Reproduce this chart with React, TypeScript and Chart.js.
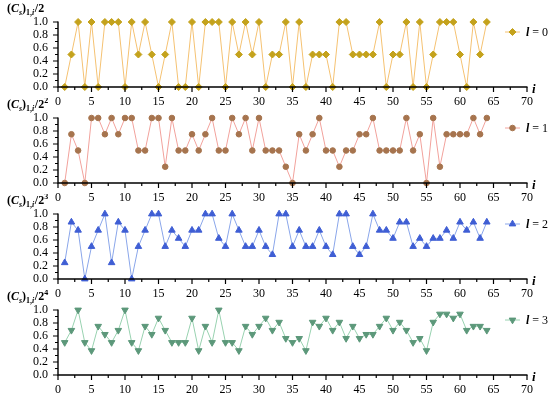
import React, { useEffect, useRef } from 'react';
import { Chart, registerables } from 'chart.js';
import { drawPoint } from 'chart.js/helpers';
Chart.register(...registerables);

const iValues = [1,2,3,4,5,6,7,8,9,10,11,12,13,14,15,16,17,18,19,20,21,22,23,24,25,26,27,28,29,30,31,32,33,34,35,36,37,38,39,40,41,42,43,44,45,46,47,48,49,50,51,52,53,54,55,56,57,58,59,60,61,62,63,64];

const l0 = [0,0.5,1,0,1,0,1,1,1,0,1,0.5,1,0.5,0,0.5,1,0,0,1,0,1,1,1,0,1,0.5,1,0.5,1,0,0.5,0.5,1,0,1,0,0.5,0.5,0.5,0,1,1,0.5,0.5,0.5,0.5,1,0,0.5,0.5,1,0,1,0,0.5,1,1,1,0.5,0,1,0.5,1];
const l1 = [0,0.75,0.5,0,1,1,0.75,1,0.75,1,1,0.5,0.5,1,1,0.25,1,0.5,0.5,0.75,0.5,0.75,1,0.5,0.5,1,0.75,1,0.5,1,0.5,0.5,0.5,0.25,0,0.75,0.5,0.75,1,0.5,0.5,0.25,0.5,0.5,0.75,0.75,1,0.5,0.5,0.5,0.5,1,0.5,0.75,0,1,0.25,0.75,0.75,0.75,0.75,1,0.75,1];
const l2 = [0.25,0.875,0.75,0,0.5,0.75,1,0.25,0.875,0.75,0,0.5,0.75,1,1,0.5,0.75,0.625,0.5,0.75,0.75,1,1,0.625,0.5,1,0.75,0.5,0.5,0.75,0.5,0.375,1,1,0.5,0.75,0.5,0.5,0.75,0.5,0.375,1,1,0.5,0.375,0.5,1,0.75,0.75,0.625,0.875,0.875,0.5,0.625,0.5,0.625,0.625,0.75,0.625,0.875,0.75,0.875,0.625,0.875];
const l3 = [0.5,0.6875,1,0.5,0.375,0.75,0.625,0.5,0.6875,1,0.5,0.375,0.75,0.625,0.875,0.6875,0.5,0.5,0.5,0.875,0.375,0.75,0.5,1,0.5,0.5,0.375,0.75,0.625,0.75,0.875,0.6875,0.8125,0.5625,0.5,0.5625,0.375,0.8125,0.75,0.875,0.6875,0.8125,0.5625,0.75,0.5625,0.625,0.625,0.75,0.875,0.6875,0.8125,0.6875,0.5,0.5625,0.375,0.8125,0.9375,0.9375,0.875,0.9375,0.6875,0.75,0.75,0.6875];

const xTicks = [0,5,10,15,20,25,30,35,40,45,50,55,60,65,70];
const xMinorTicks = [2.5,7.5,12.5,17.5,22.5,27.5,32.5,37.5,42.5,47.5,52.5,57.5,62.5,67.5];
const yTicks = [0,0.2,0.4,0.6,0.8,1.0];
const yMinorTicks = [0.1,0.3,0.5,0.7,0.9];

const legendLabels = ['0','1','2','3'];
const titleExponents = ['', '2', '3', '4'];

const panels = [
  { values: l0, line: '#f5c272', marker: '#c4a21c', style: 'rectRot', radius: 3.5, rotation: 0 },
  { values: l1, line: '#f2a29c', marker: '#a6744e', style: 'circle', radius: 2.8, rotation: 0 },
  { values: l2, line: '#8aa6ea', marker: '#3f5ed4', style: 'triangle', radius: 3.8, rotation: 0 },
  { values: l3, line: '#98d2b0', marker: '#5c987a', style: 'triangle', radius: 3.8, rotation: 180 },
];

const SERIF = '"Liberation Serif", "DejaVu Serif", serif';
const CANVAS_W = 550;
const CANVAS_H = 110;
const PANEL_TOPS = [2, 98, 194, 290];

function makeDecor(idx: number) {
  const p = panels[idx];
  return {
    id: 'decor' + idx,
    afterDraw(chart: any) {
      const ctx = chart.ctx as CanvasRenderingContext2D;
      const xs = chart.scales.x;
      const ys = chart.scales.y;
      const x0 = xs.getPixelForValue(xTicks[0]);
      const x1 = xs.getPixelForValue(xTicks[xTicks.length - 1]);
      const y0 = ys.getPixelForValue(yTicks[0]);
      const y1 = ys.getPixelForValue(yTicks[yTicks.length - 1]);
      ctx.save();
      ctx.strokeStyle = '#000';
      ctx.lineWidth = 1.4;
      ctx.beginPath();
      ctx.moveTo(x0, y1 - 0.5);
      ctx.lineTo(x0, y0);
      ctx.lineTo(x1 + 0.5, y0);
      ctx.stroke();
      ctx.lineWidth = 1.2;
      ctx.beginPath();
      xTicks.forEach(v => { const px = xs.getPixelForValue(v); ctx.moveTo(px, y0); ctx.lineTo(px, y0 + 5); });
      xMinorTicks.forEach(v => { const px = xs.getPixelForValue(v); ctx.moveTo(px, y0); ctx.lineTo(px, y0 + 3); });
      yTicks.forEach(v => { const py = ys.getPixelForValue(v); ctx.moveTo(x0, py); ctx.lineTo(x0 - 5, py); });
      yMinorTicks.forEach(v => { const py = ys.getPixelForValue(v); ctx.moveTo(x0, py); ctx.lineTo(x0 - 3, py); });
      ctx.stroke();

      // axis variable label "i"
      ctx.fillStyle = '#000';
      ctx.textBaseline = 'alphabetic';
      ctx.textAlign = 'left';
      ctx.font = 'italic bold 13px ' + SERIF;
      ctx.fillText('i', x1 + 5, y0 + 6);

      // y title (C_s)_{1,i}/2^k
      let tx = 7;
      const base = y1 - 10;
      const piece = (t: string, font: string, dy: number) => {
        ctx.font = font;
        ctx.fillText(t, tx, base + dy);
        tx += ctx.measureText(t).width;
      };
      piece('(', 'bold 12px ' + SERIF, 0);
      piece('C', 'italic bold 12px ' + SERIF, 0);
      piece('s', 'italic bold 8px ' + SERIF, 3);
      piece(')', 'bold 12px ' + SERIF, 0);
      piece('1,', 'bold 8px ' + SERIF, 3);
      piece('i', 'italic bold 8px ' + SERIF, 3);
      tx += 0.5;
      piece('/2', 'bold 12px ' + SERIF, 0);
      if (titleExponents[idx]) piece(titleExponents[idx], 'bold 8px ' + SERIF, -5);

      // legend
      const ly = y1 + 10;
      ctx.strokeStyle = p.line;
      ctx.lineWidth = 1;
      ctx.beginPath();
      ctx.moveTo(505, ly);
      ctx.lineTo(520, ly);
      ctx.stroke();
      ctx.fillStyle = p.marker;
      ctx.strokeStyle = p.marker;
      drawPoint(ctx, { pointStyle: p.style as any, radius: p.radius, rotation: p.rotation, borderWidth: 1 }, 512.5, ly);
      ctx.fillStyle = '#000';
      ctx.textBaseline = 'middle';
      tx = 526;
      const lp = (t: string, font: string) => {
        ctx.font = font;
        ctx.fillText(t, tx, ly + 0.5);
        tx += ctx.measureText(t).width;
      };
      lp('l', 'italic bold 12px ' + SERIF);
      lp(' = ' + legendLabels[idx], '12px ' + SERIF);
      ctx.restore();
    },
  };
}

function Panel({ idx }: { idx: number }) {
  const ref = useRef<HTMLCanvasElement | null>(null);
  useEffect(() => {
    const p = panels[idx];
    const chart = new Chart(ref.current as HTMLCanvasElement, {
      type: 'line',
      data: {
        datasets: [{
          data: iValues.map((x, k) => ({ x, y: p.values[k] })),
          borderColor: p.line,
          borderWidth: 1,
          backgroundColor: p.marker,
          pointBackgroundColor: p.marker,
          pointBorderColor: p.marker,
          pointBorderWidth: 1,
          pointStyle: p.style as any,
          pointRadius: p.radius,
          pointRotation: p.rotation,
          tension: 0,
          clip: false as any,
        }],
      },
      options: {
        responsive: false,
        animation: false,
        devicePixelRatio: 1,
        layout: { padding: { top: 20, right: 23, left: 0, bottom: 0 } },
        plugins: { legend: { display: false }, tooltip: { enabled: false }, title: { display: false } },
        scales: {
          x: {
            type: 'linear',
            min: 0,
            max: 70,
            afterFit: (s: any) => { s.height = 25; },
            afterBuildTicks: (s: any) => { s.ticks = xTicks.map(v => ({ value: v })); },
            ticks: { color: '#000', font: { family: SERIF, size: 12 }, padding: 8, autoSkip: false, maxRotation: 0, callback: (v: any) => String(v) },
            grid: { display: false, drawTicks: false },
            border: { display: false },
          },
          y: {
            type: 'linear',
            min: 0,
            max: 1,
            afterFit: (s: any) => { s.width = 58; },
            afterBuildTicks: (s: any) => { s.ticks = yTicks.map(v => ({ value: v })); },
            ticks: { color: '#000', font: { family: SERIF, size: 12, lineHeight: 1 }, padding: 10, autoSkip: false, callback: (v: any) => Number(v).toFixed(1) },
            grid: { display: false, drawTicks: false },
            border: { display: false },
          },
        },
      },
      plugins: [makeDecor(idx)],
    });
    return () => chart.destroy();
  }, [idx]);
  return (
    <canvas
      ref={ref}
      width={CANVAS_W}
      height={CANVAS_H}
      style={{ position: 'absolute', left: 0, top: PANEL_TOPS[idx], width: CANVAS_W, height: CANVAS_H }}
    />
  );
}

export default function App() {
  return (
    <div style={{ position: 'absolute', left: 0, top: 0, width: 550, height: 402, background: '#fff' }}>
      {panels.map((_, k) => <Panel key={k} idx={k} />)}
    </div>
  );
}
